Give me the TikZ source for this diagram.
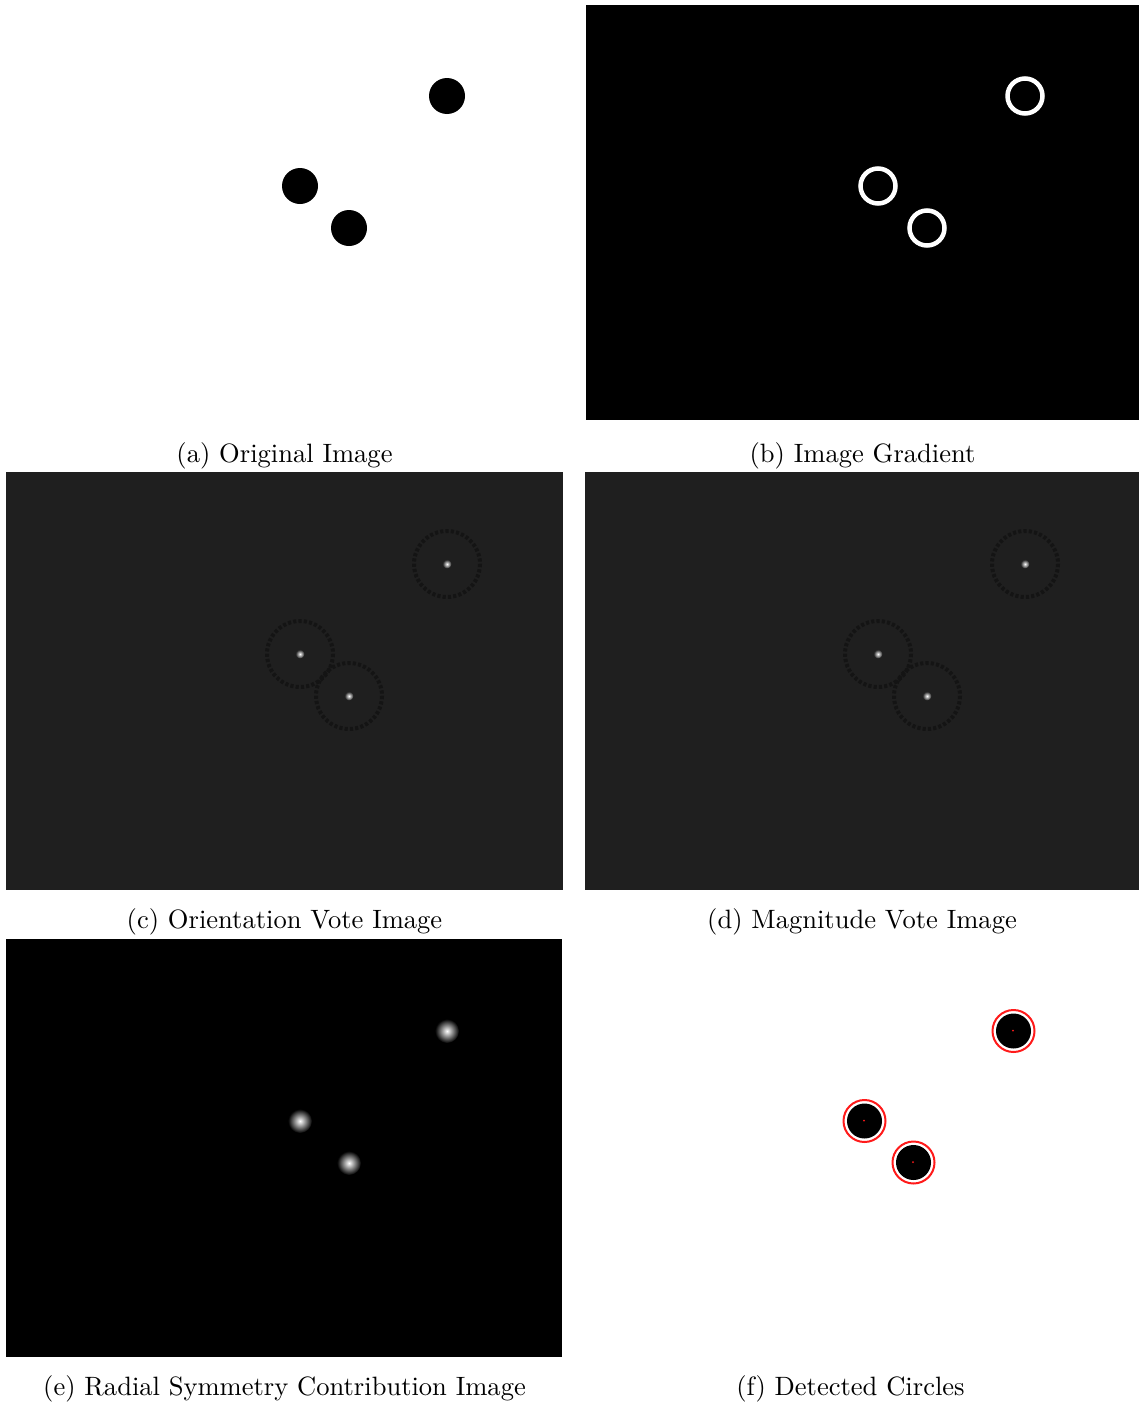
\documentclass[tikz,border=0pt]{standalone}
\usepackage{xcolor}
\usepackage{tikz}
\usetikzlibrary{positioning,calc}
\definecolor{votebg}{HTML}{1F1F1F}
\definecolor{votering}{HTML}{141414}
\definecolor{detred}{HTML}{FF1A1A}
\newcommand{\pxu}{0.01325cm}

\begin{document}
\begin{tikzpicture}[
  x=\pxu, y=-\pxu,
  panel/.style={inner sep=0pt, outer sep=0pt, anchor=north west, minimum width=557*\pxu, minimum height=415*\pxu},
  cap/.style={font=\normalsize, inner sep=0.333em, below=3.6pt of #1},
  ringw/.style={draw=white, line width=4.5*\pxu},
  votering/.style={draw=votering, line width=4*\pxu, dash pattern=on 1.2pt off 0.8pt},
  redring/.style={draw=detred, line width=2*\pxu}
]
  \useasboundingbox (0,0) rectangle (1140,1405);
  % panels
  \node[panel, fill=white] (pa) at (6,5) {};
  \node[panel, fill=black, minimum width=553*\pxu] (pb) at (586,5) {};
  \node[panel, fill=votebg, minimum height=418*\pxu] (pc) at (6,472) {};
  \node[panel, fill=votebg, minimum width=554*\pxu, minimum height=418*\pxu] (pd) at (585,472) {};
  \node[panel, fill=black, minimum height=418*\pxu] (pe) at (6,939) {};
  \node[panel, fill=white, minimum width=577*\pxu, minimum height=418*\pxu] (pf) at (562,939) {};

  % (a) blobs
  \foreach \cx/\cy in {447/96, 300/186, 349/228}
    \fill[black] (\cx,\cy) circle (18);
  % (b) gradient rings
  \foreach \cx/\cy in {1025/96, 878/186, 927/228}
    \draw[ringw] (\cx,\cy) circle (17.5);
  % (c) and (d) votes
  \foreach \dx in {0, 578} {
    \foreach \cx/\cy in {447/564, 300/654, 349/696} {
      \draw[votering] (\cx+\dx,\cy) circle (33);
      \shade[inner color=white, outer color=votebg] (\cx+\dx,\cy) circle (4.5);
    }
  }
  % (e) contribution
  \foreach \cx/\cy in {447/1031, 300/1121, 349/1163}
    \shade[inner color=white, outer color=black] (\cx,\cy) circle (12);
  % (f) detections
  \foreach \cx/\cy in {1013.5/1031, 864.5/1121, 913.5/1162.5} {
    \fill[black] (\cx,\cy) circle (17.5);
    \draw[redring] (\cx,\cy) circle (21);
    \fill[detred] (\cx-0.5,\cy-0.5) circle (1);
  }

  % captions
  \node[cap=pa, yshift=-1.2pt] (ca) {(a) Original Image};
  \node[cap=pb, yshift=-1.2pt] (cb) {(b) Image Gradient};
  \node[cap=pc] (cc) {(c) Orientation Vote Image};
  \node[cap=pd] (cd) {(d) Magnitude Vote Image};
  \node[cap=pe] (ce) {(e) Radial Symmetry Contribution Image};
  \node[cap=pf] (cf) {(f) Detected Circles};
\end{tikzpicture}
\end{document}
